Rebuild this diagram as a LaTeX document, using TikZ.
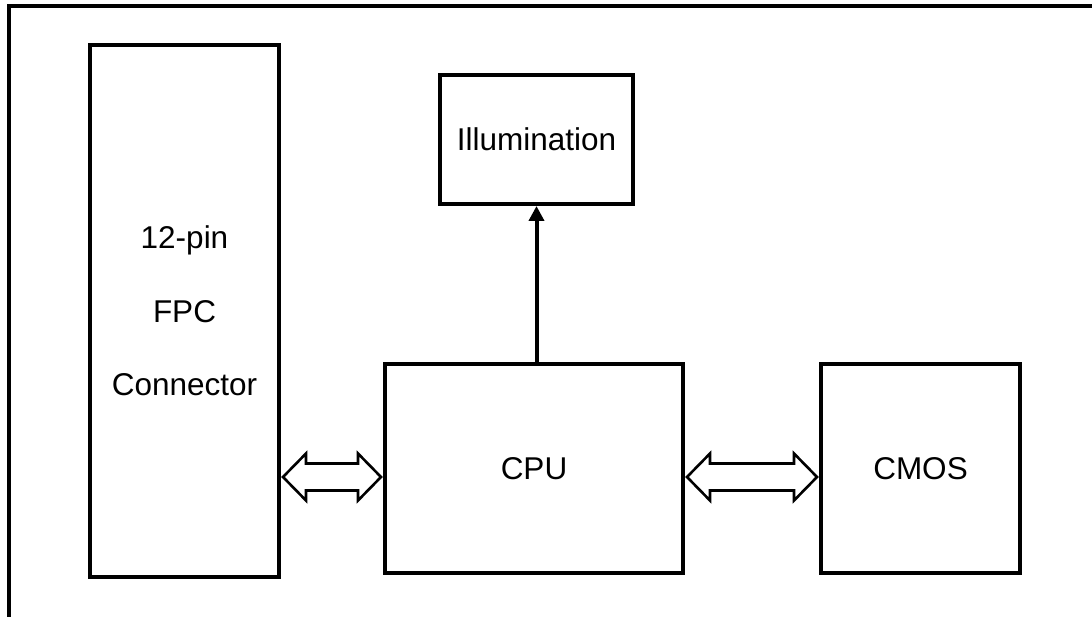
\documentclass[tikz,border=0pt]{standalone}
\usepackage{fontspec}
\setmainfont{Liberation Sans}
\usetikzlibrary{calc,arrows.meta}

% hollow double-headed bus arrow between two points (same height)
\newcommand\busarrow[2]{%
  \draw[busline] let \p1=(#1), \p2=(#2) in
    (\x1,\y1) -- (\x1+23pt,\y1+23.5pt) -- (\x1+23pt,\y1+13.5pt)
    -- (\x2-23pt,\y1+13.5pt) -- (\x2-23pt,\y1+23.5pt) -- (\x2,\y1)
    -- (\x2-23pt,\y1-23.5pt) -- (\x2-23pt,\y1-13.5pt)
    -- (\x1+23pt,\y1-13.5pt) -- (\x1+23pt,\y1-23.5pt) -- cycle;}

\begin{document}
\begin{tikzpicture}[x=1pt,y=-1pt,
  block/.style={draw, rectangle, line width=4pt, inner sep=0pt, outer sep=0pt,
    font=\fontsize{31.5}{37}\selectfont},
  frameline/.style={line width=4.3pt},
  busline/.style={draw, fill=white, line width=2.6pt, line join=miter},
  ctrl/.style={line width=4pt, -{Triangle[width=15pt,length=15pt]}}
]
\path[use as bounding box] (0,0) rectangle (1092,617);
\clip (0,0) rectangle (1092,617);

% outer frame (top and left edges)
\draw[frameline] (1100,6) -- (9,6) -- (9,630);

% blocks
\node[block, minimum width=189pt, minimum height=532pt, align=center,
      font=\fontsize{31.5}{73.5}\selectfont] (fpc) at (184.5,311) {12-pin\\FPC\\Connector};
\node[block, minimum width=193pt, minimum height=129pt] (ill) at (536.5,139.5) {Illumination};
\node[block, minimum width=298pt, minimum height=209pt] (cpu) at (534,468.5) {CPU};
\node[block, minimum width=199pt, minimum height=209pt] (cmos) at (920.5,468.5) {CMOS};

% connectors
\coordinate (bus) at (0,477);
\coordinate (fpcport) at ($(fpc.east |- bus)+(4,0)$);
\coordinate (cpuinL) at ($(cpu.west |- bus)+(-4,0)$);
\coordinate (cpuinR) at ($(cpu.east |- bus)+(4,0)$);
\coordinate (cmosport) at ($(cmos.west |- bus)+(-4,0)$);
\busarrow{fpcport}{cpuinL}
\busarrow{cpuinR}{cmosport}

\draw[ctrl] (ill.south |- cpu.north) -- ($(ill.south)+(0,2)$);
\end{tikzpicture}
\end{document}
